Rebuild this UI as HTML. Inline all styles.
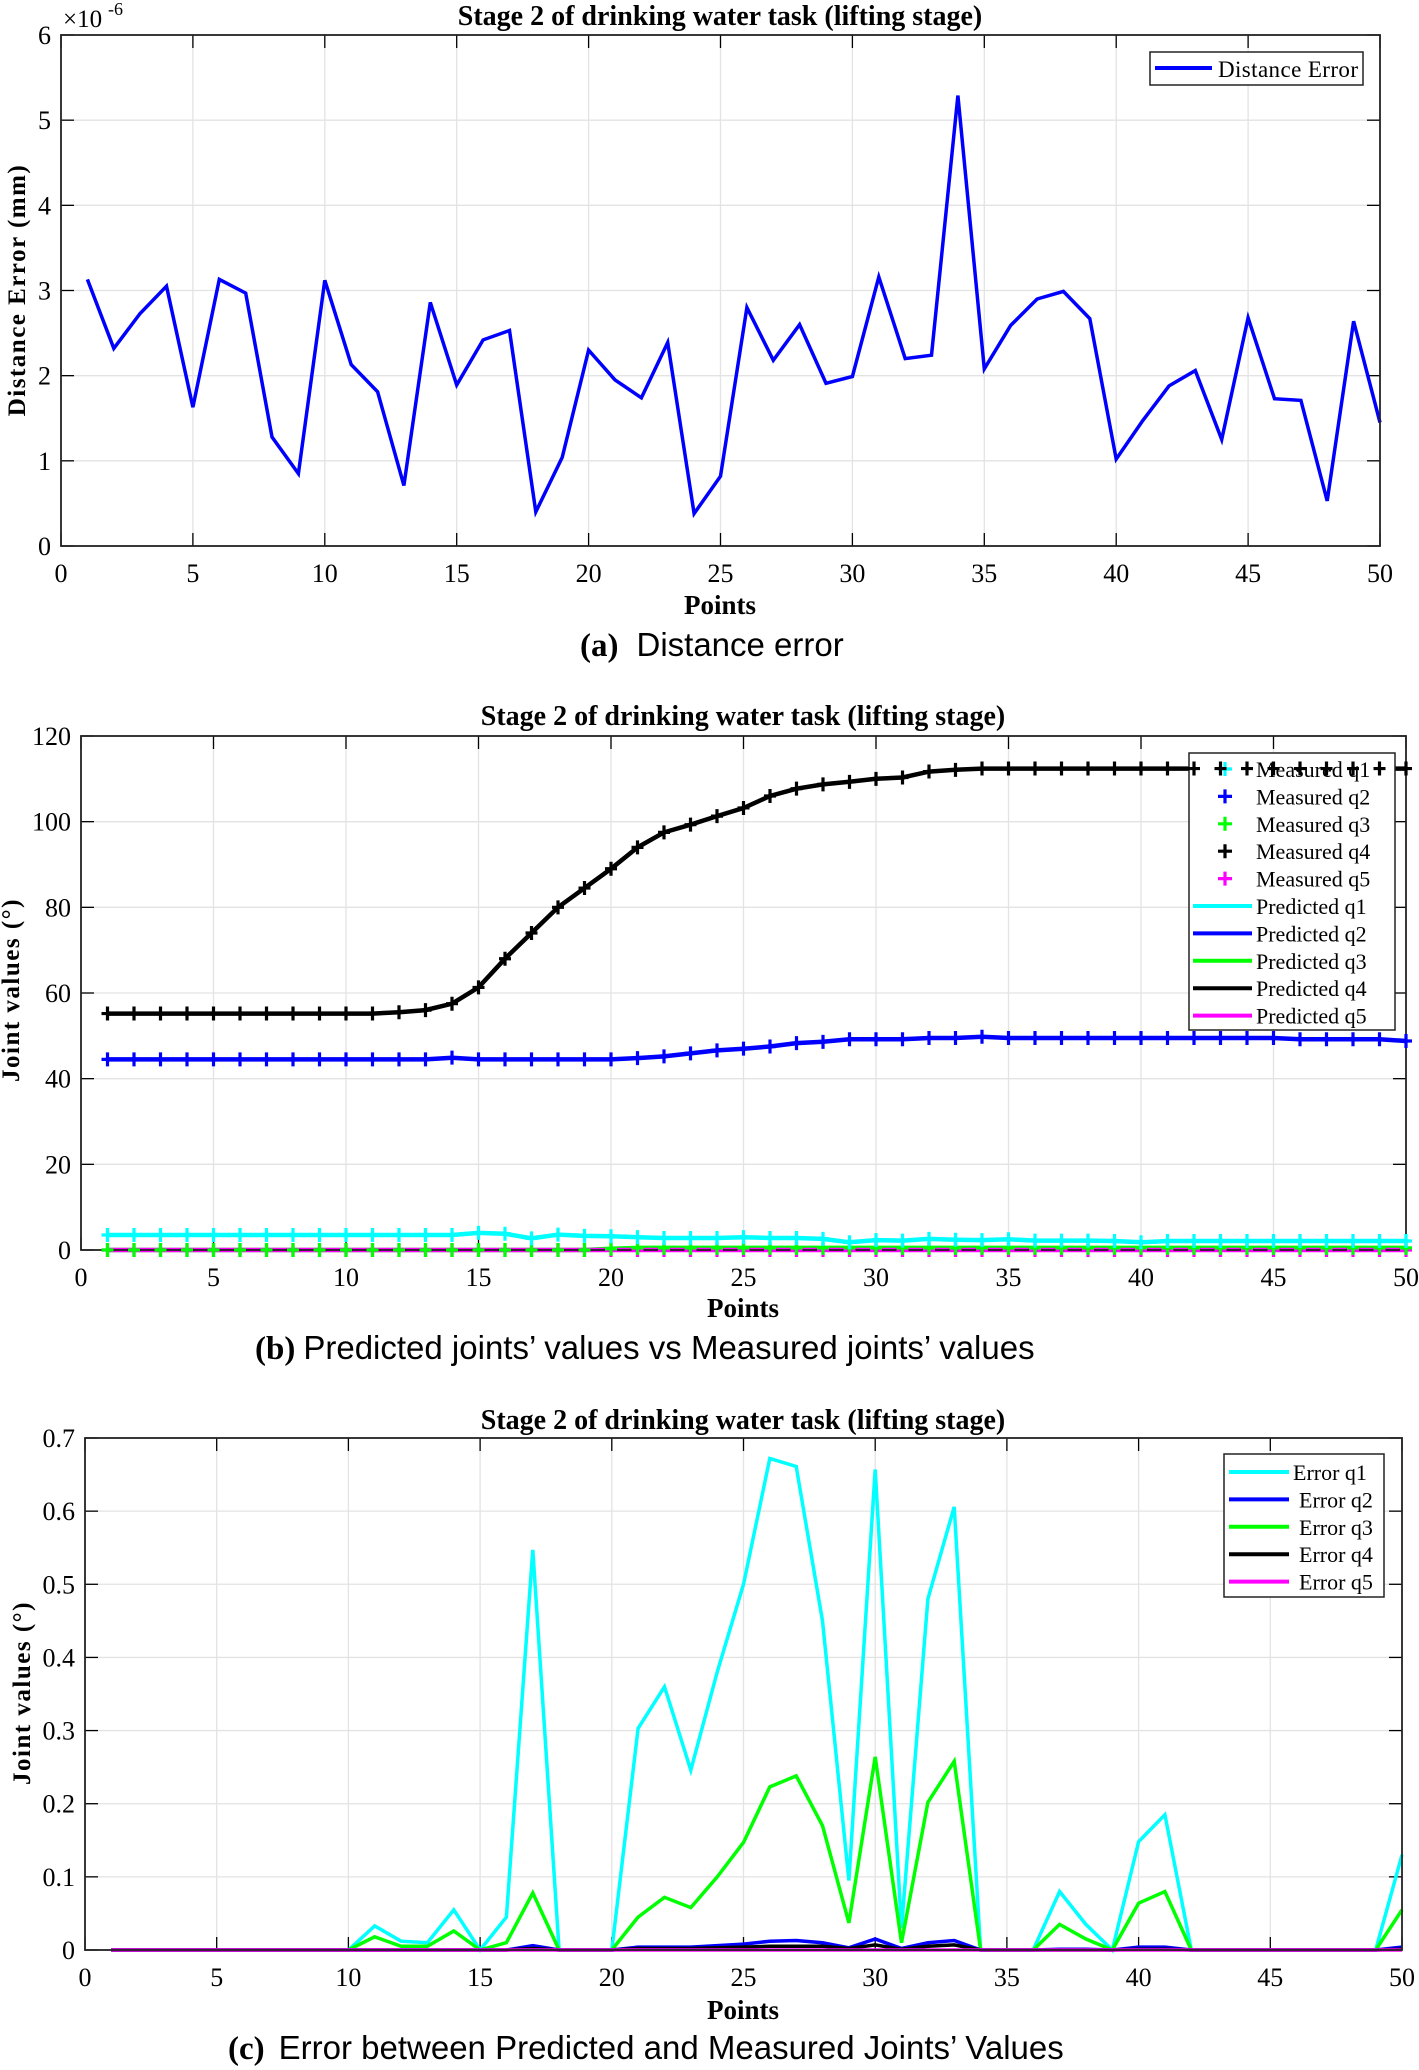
<!DOCTYPE html>
<html><head><meta charset="utf-8"><style>
html,body{margin:0;padding:0;background:#fff}
svg{display:block}
text{font-family:"Liberation Serif",serif;fill:#000}
.cap{font-family:"Liberation Sans","DejaVu Sans",sans-serif}
</style></head><body>
<svg id="s" width="1419" height="2070" viewBox="0 0 1419 2070" xmlns="http://www.w3.org/2000/svg"></svg>
<script>
// ---- data ----
const points = Array.from({length:50},(_,i)=>i+1);
const distErr = [3.13,2.32,2.73,3.05,1.63,3.13,2.97,1.28,0.85,3.12,2.13,1.81,0.71,2.86,1.89,2.42,2.53,0.40,1.04,2.30,1.95,1.74,2.39,0.38,0.82,2.80,2.18,2.60,1.91,1.99,3.16,2.20,2.24,5.29,2.08,2.59,2.90,2.99,2.67,1.02,1.47,1.88,2.06,1.25,2.68,1.73,1.71,0.53,2.64,1.45];
const predQ1 = [3.5,3.5,3.5,3.5,3.5,3.5,3.5,3.5,3.5,3.5,3.5,3.5,3.5,3.5,4.0,3.8,2.7,3.6,3.3,3.2,3.0,2.8,2.8,2.8,3.0,2.8,2.8,2.6,1.8,2.3,2.2,2.6,2.4,2.3,2.5,2.2,2.2,2.2,2.1,1.8,2.1,2.1,2.1,2.1,2.1,2.1,2.1,2.1,2.1,2.1];
const predQ2 = [44.5,44.5,44.5,44.5,44.5,44.5,44.5,44.5,44.5,44.5,44.5,44.5,44.5,44.9,44.5,44.5,44.5,44.5,44.5,44.5,44.8,45.2,45.9,46.6,47.0,47.5,48.3,48.6,49.2,49.2,49.2,49.5,49.5,49.8,49.5,49.5,49.5,49.5,49.5,49.5,49.5,49.5,49.5,49.5,49.5,49.2,49.2,49.2,49.2,48.8];
const predQ3 = [0,0,0,0,0,0,0,0,0,0,0,0,0,0,0,0,0,0,0,0.3,0.5,0.5,0.5,0.5,0.5,0.5,0.5,0.5,0.5,0.5,0.5,0.5,0.5,0.5,0.5,0.5,0.5,0.5,0.5,0.5,0.5,0.5,0.5,0.5,0.5,0.5,0.5,0.5,0.5,0.5];
const predQ4 = [55.2,55.2,55.2,55.2,55.2,55.2,55.2,55.2,55.2,55.2,55.2,55.5,56.0,57.5,61.3,68.0,74.0,80.0,84.5,89.0,94.0,97.5,99.3,101.3,103.2,106.0,107.7,108.7,109.3,110.0,110.3,111.7,112.1,112.4,112.4,112.4,112.4,112.4,112.4,112.4,112.4,112.4,112.4,112.4,112.4,112.4,112.4,112.4,112.4,112.4];
const predQ5 = new Array(50).fill(0);
const measQ1 = predQ1.slice(), measQ2 = predQ2.slice(), measQ3 = predQ3.slice(), measQ4 = predQ4.slice(), measQ5 = predQ5.slice();
const errQ1 = [0,0,0,0,0,0,0,0,0,0,0.033,0.012,0.010,0.055,0,0.045,0.547,0,0,0,0.303,0.360,0.246,0.380,0.500,0.672,0.661,0.450,0.095,0.657,0.030,0.480,0.606,0,0,0,0.080,0.035,0,0.148,0.185,0,0,0,0,0,0,0,0,0.130];
const errQ2 = [0,0,0,0,0,0,0,0,0,0,0,0,0,0,0,0,0.006,0,0,0,0.004,0.004,0.004,0.006,0.008,0.012,0.013,0.010,0.003,0.015,0.002,0.010,0.013,0,0,0,0.001,0.001,0,0.004,0.004,0,0,0,0,0,0,0,0,0.004];
const errQ3 = [0,0,0,0,0,0,0,0,0,0,0.018,0.005,0.005,0.026,0,0.010,0.078,0,0,0,0.045,0.072,0.058,0.100,0.147,0.223,0.238,0.170,0.037,0.264,0.010,0.202,0.258,0,0,0,0.035,0.015,0,0.064,0.080,0,0,0,0,0,0,0,0,0.055];
const errQ4 = [0,0,0,0,0,0,0,0,0,0,0,0,0,0,0,0,0.002,0,0,0,0.002,0.002,0.002,0.003,0.004,0.005,0.005,0.005,0.002,0.007,0.001,0.005,0.007,0,0,0,0,0,0,0.001,0.001,0,0,0,0,0,0,0,0,0.001];
const errQ5 = new Array(50).fill(0);
const xTicks = [0,5,10,15,20,25,30,35,40,45,50];
const yTicksA = [0,1,2,3,4,5,6];
const yTicksB = [0,20,40,60,80,100,120];
const yTicksC = [0,0.1,0.2,0.3,0.4,0.5,0.6,0.7];
const yLabelsC = ["0","0.1","0.2","0.3","0.4","0.5","0.6","0.7"];

const NS="http://www.w3.org/2000/svg";
const svg=document.getElementById('s');
function el(tag,attrs,parent,txt){const e=document.createElementNS(NS,tag);for(const k in attrs)e.setAttribute(k,attrs[k]);if(txt!==undefined)e.textContent=txt;(parent||svg).appendChild(e);return e;}

function makeAxes(g,L,R,T,B,xmax,ymax,yTicks,yLabels){
  const sx=v=>L+(v/xmax)*(R-L), sy=v=>B-(v/ymax)*(B-T);
  for(const t of xTicks){const x=sx(t);
    if(t>0&&t<xmax){const gl=el('line',{x1:x,x2:x,y1:T,y2:B,stroke:'#e3e3e3','stroke-width':1.3},g);
    
    }
    el('line',{x1:x,x2:x,y1:B,y2:B-13,stroke:'#000','stroke-width':1.3},g);
    el('line',{x1:x,x2:x,y1:T,y2:T+13,stroke:'#000','stroke-width':1.3},g);
    const tl=el('text',{x:x,y:B+36,'text-anchor':'middle','font-size':26},g,String(t));
    
    
  }
  yTicks.forEach((t,i)=>{const y=sy(t);
    if(t>0&&t<ymax){const gl=el('line',{x1:L,x2:R,y1:y,y2:y,stroke:'#e3e3e3','stroke-width':1.3},g);
    
    }
    el('line',{x1:L,x2:L+13,y1:y,y2:y,stroke:'#000','stroke-width':1.3},g);
    el('line',{x1:R,x2:R-13,y1:y,y2:y,stroke:'#000','stroke-width':1.3},g);
    const tl=el('text',{x:L-10,y:y+9,'text-anchor':'end','font-size':26},g,yLabels?yLabels[i]:String(t));
    
    
  });
  return {sx,sy};
}
function frame(g,L,R,T,B){const r=el('rect',{x:L,y:T,width:R-L,height:B-T,fill:'none',stroke:'#222','stroke-width':1.8},g);
  
  }
function line(g,vals,ax,color,w,name){
  const d=vals.map((v,i)=>(i?'L':'M')+ax.sx(points[i]).toFixed(1)+' '+ax.sy(v).toFixed(1)).join(' ');
  const p=el('path',{d:d,fill:'none',stroke:color,'stroke-width':w,'stroke-linejoin':'miter'},g);
  
  
}
function markers(g,vals,ax,color,name){
  const mg=el('g',{},g);
  
  
  vals.forEach((v,i)=>{const x=ax.sx(points[i]),y=ax.sy(v);
    el('path',{d:`M${x-6} ${y}H${x+6}M${x} ${y-7}V${y+7}`,stroke:color,'stroke-width':3.2},mg);});
}
function txt(x,y,s,size,attrs,name){const t=el('text',Object.assign({x:x,y:y,'font-size':size},attrs||{}),svg,s);
  
  return t;}

// ---- Chart A ----
{const L=61,R=1380,T=35,B=546;
 const g=el('g',{});
 const ax=makeAxes(g,L,R,T,B,50,6,yTicksA);
 line(g,distErr,ax,'#0000ff',3.5,'distance-error-line');
 frame(g,L,R,T,B);
 txt(L+2,27,'×10',25,{},'y-exponent');
 txt(L+47,15,'-6',18,{},'y-exponent-power');
 txt(720,25,'Stage 2 of drinking water task (lifting stage)',28,{'text-anchor':'middle','font-weight':'bold'},'chart-a-title');
 txt(720,614,'Points',27,{'text-anchor':'middle','font-weight':'bold'},'x-axis-title-a');
 txt(0,0,'Distance Error (mm)',25,{'text-anchor':'middle','font-weight':'bold','letter-spacing':'1.5','transform':'translate(25,290) rotate(-90)'},'y-axis-title-a');
 const lg=el('g',{});
 el('rect',{x:1150,y:52,width:213,height:33,fill:'#fff',stroke:'#222','stroke-width':1.5},lg);
 el('line',{x1:1155,x2:1212,y1:68,y2:68,stroke:'#0000ff','stroke-width':4},lg);
 el('text',{x:1218,y:77,'font-size':23,textLength:140},lg,'Distance Error');
 const c=txt(580,656,'',33,{'text-anchor':'start'},'caption-a');
 c.innerHTML='<tspan font-weight="bold" font-family="Liberation Serif">(a)</tspan><tspan class="cap" dx="18">Distance error</tspan>';
}
// ---- Chart B ----
{const L=81,R=1406,T=736,B=1250;
 const g=el('g',{});
 const ax=makeAxes(g,L,R,T,B,50,120,yTicksB);
 line(g,predQ1,ax,'#00ffff',4.5,'predicted-q1-line');
 line(g,predQ2,ax,'#0000ff',4.5,'predicted-q2-line');
 line(g,predQ3,ax,'#00ff00',4.5,'predicted-q3-line');
 line(g,predQ4,ax,'#000000',4.5,'predicted-q4-line');
 line(g,predQ5,ax,'#ff00ff',4.5,'predicted-q5-line');
 frame(g,L,R,T,B);
 const lg=el('g',{});
 el('rect',{x:1189,y:753,width:206,height:277,fill:'#fff',stroke:'#222','stroke-width':1.5},lg);
 const names=['Measured q1','Measured q2','Measured q3','Measured q4','Measured q5','Predicted q1','Predicted q2','Predicted q3','Predicted q4','Predicted q5'];
 const cols=['#00ffff','#0000ff','#00ff00','#000000','#ff00ff','#00ffff','#0000ff','#00ff00','#000000','#ff00ff'];
 names.forEach((n,i)=>{const y=769+i*27.4;
   if(i<5) el('path',{d:`M${1218} ${y}H${1232}M${1225} ${y-7}V${y+7}`,stroke:cols[i],'stroke-width':3.2},lg);
   else el('line',{x1:1193,x2:1252,y1:y,y2:y,stroke:cols[i],'stroke-width':4},lg);
   el('text',{x:1256,y:y+8,'font-size':22},lg,n);});
 markers(g,measQ5,ax,'#ff00ff','measured-q5-markers');
 markers(g,measQ3,ax,'#00ff00','measured-q3-markers');
 markers(g,measQ1,ax,'#00ffff','measured-q1-markers');
 markers(g,measQ2,ax,'#0000ff','measured-q2-markers');
 markers(svg,measQ4,ax,'#000000','measured-q4-markers');
 txt(743,725,'Stage 2 of drinking water task (lifting stage)',28,{'text-anchor':'middle','font-weight':'bold'},'chart-b-title');
 txt(743,1317,'Points',27,{'text-anchor':'middle','font-weight':'bold'},'x-axis-title-b');
 txt(0,0,'Joint values (°)',25,{'text-anchor':'middle','font-weight':'bold','letter-spacing':'1.5','transform':'translate(19,990) rotate(-90)'},'y-axis-title-b');
 const c=txt(255,1359,'',33,{},'caption-b');
 c.innerHTML='<tspan font-weight="bold" font-family="Liberation Serif">(b)</tspan><tspan class="cap" dx="8">Predicted joints’ values vs Measured joints’ values</tspan>';
}
// ---- Chart C ----
{const L=85,R=1402,T=1438,B=1950;
 const g=el('g',{});
 const ax=makeAxes(g,L,R,T,B,50,0.7,yTicksC,yLabelsC);
 line(g,errQ1,ax,'#00ffff',3.5,'error-q1-line');
 line(g,errQ3,ax,'#00ff00',3.5,'error-q3-line');
 line(g,errQ2,ax,'#0000ff',3.5,'error-q2-line');
 line(g,errQ4,ax,'#000000',3.5,'error-q4-line');
 line(g,errQ5,ax,'#ff00ff',3.5,'error-q5-line');
 frame(g,L,R,T,B);
 const lg=el('g',{});
 el('rect',{x:1224,y:1454,width:160,height:143,fill:'#fff',stroke:'#222','stroke-width':1.5},lg);
 const names=['Error q1','Error q2','Error q3','Error q4','Error q5'];
 const cols=['#00ffff','#0000ff','#00ff00','#000000','#ff00ff'];
 names.forEach((n,i)=>{const y=1472+i*27.4;
   el('line',{x1:1229,x2:1289,y1:y,y2:y,stroke:cols[i],'stroke-width':4},lg);
   el('text',{x:1293+(i?6:0),y:y+8,'font-size':22},lg,n);});
 txt(743,1429,'Stage 2 of drinking water task (lifting stage)',28,{'text-anchor':'middle','font-weight':'bold'},'chart-c-title');
 txt(743,2019,'Points',27,{'text-anchor':'middle','font-weight':'bold'},'x-axis-title-c');
 txt(0,0,'Joint values (°)',25,{'text-anchor':'middle','font-weight':'bold','letter-spacing':'1.5','transform':'translate(30,1693) rotate(-90)'},'y-axis-title-c');
 const c=txt(228,2059,'',33,{},'caption-c');
 c.innerHTML='<tspan font-weight="bold" font-family="Liberation Serif">(c)</tspan><tspan class="cap" dx="14">Error between Predicted and Measured Joints’ Values</tspan>';
}
</script>
</body></html>
